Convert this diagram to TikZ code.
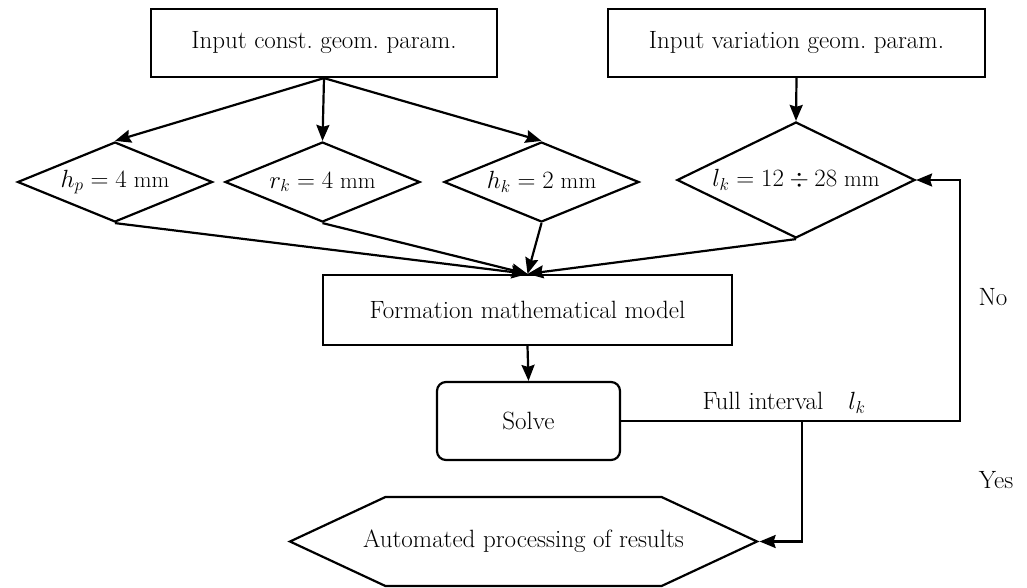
\documentclass[tikz,border=0pt]{standalone}
\usepackage{amsmath, amssymb}
\usepackage{tikz}
\usetikzlibrary{arrows.meta, shapes.geometric, shapes.symbols}

\begin{document}
\begin{tikzpicture}[
	    x=1pt, y=-1pt,
	    >={Stealth[length=16pt, width=13pt, inset=2pt]},
	    every node/.style={inner sep=0pt, font=\fontsize{25}{30}\selectfont},
	    box/.style={rectangle, draw, line width=2.2pt},
	    cond/.style={diamond, aspect=2.2, draw, line width=2.2pt, minimum width=195pt, minimum height=80pt, font=\fontsize{23}{28}\selectfont},
	    hexa/.style={signal, signal to=west and east, signal pointer angle=50, draw, line width=2.2pt},
	    note/.style={},
	    arrow/.style={->, line width=2.2pt}
	]
		\useasboundingbox (0,0) rectangle (1027,587);

		\node[box, minimum width=346pt, minimum height=68pt] (cin) at (324,43) {Input const.\ geom.\ param.};
		\node[box, minimum width=377pt, minimum height=68pt] (vin) at (796.5,43) {Input variation geom.\ param.};

		\node[cond] (hp) at (115,182) {$h_p = 4$ mm};
		\node[cond] (rk) at (322.5,182) {$r_k = 4$ mm};
		\node[cond] (hk) at (541.5,182) {$h_k = 2$ mm};
		\node[cond, minimum width=238pt, minimum height=116pt] (lk) at (796,180) {$l_k = 12 \div 28$ mm};

		\node[box, minimum width=409pt, minimum height=70pt] (model) at (527.5,310) {Formation mathematical model};
		\node[box, rounded corners=9pt, minimum width=183pt, minimum height=78pt] (solve) at (528.5,421) {Solve};
		\node[hexa, minimum width=467pt, minimum height=89pt] (res) at (523.5,541.5) {\makebox[270pt]{Automated processing of results}};

		\node[note] (full) at (784,403) {Full interval\quad $l_k$};
		\node[note] (no) at (993,297) {No};
		\node[note] (yes) at (996,480) {Yes};

		\coordinate (turn) at (960,421);
		\coordinate (split) at (802,421);

		\draw[arrow] (cin.south) -- (hp.north);
		\draw[arrow] (cin.south) -- (rk.north);
		\draw[arrow] (cin.south) -- (hk.north);
		\draw[arrow] (vin.south) -- (lk.north);

		\draw[arrow] (hp.south) -- (model.north);
		\draw[arrow] (rk.south) -- (model.north);
		\draw[arrow] (hk.south) -- (model.north);
		\draw[arrow] (lk.south) -- (model.north);

		\draw[arrow] (model.south) -- (solve.north);
		\draw[arrow] (solve.east) -- (turn) |- (lk.east);
		\draw[arrow] (split) |- (res.east);
	\end{tikzpicture}
\end{document}
